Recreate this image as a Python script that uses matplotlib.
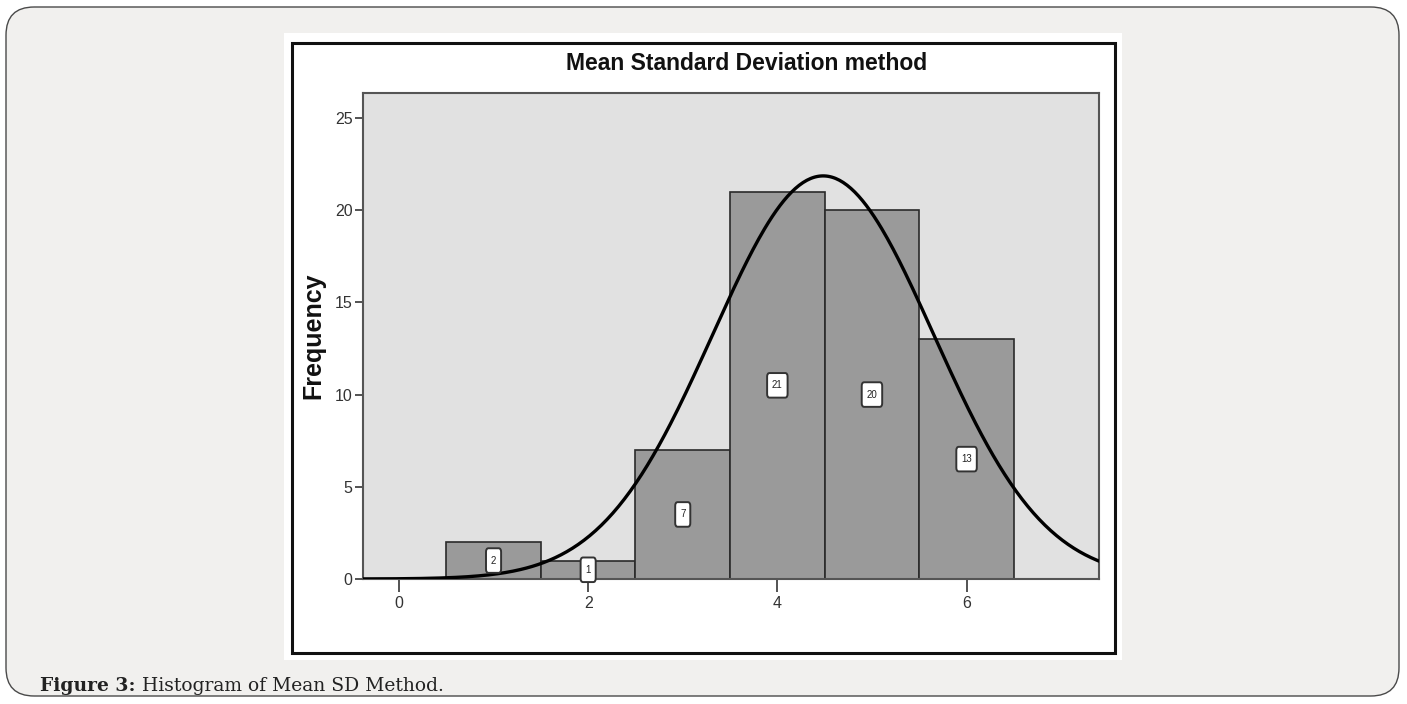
import numpy as np
import matplotlib
matplotlib.use("Agg")
import matplotlib.pyplot as plt
from matplotlib.patches import FancyBboxPatch, Rectangle

# histogram data (score value -> count)
scores = [1, 2, 3, 4, 5, 6]
counts = [2, 1, 7, 21, 20, 13]
xticks = [0, 2, 4, 6]
yticks = [0, 5, 10, 15, 20, 25]
title = "Mean Standard Deviation method"
ylabel = "Frequency"
caption_bold = "Figure 3:"
caption_text = " Histogram of Mean SD Method."

fig = plt.figure(figsize=(14.07, 7.04), dpi=100)
fig.patch.set_facecolor("white")
W, H = 1407, 704

def fx(px):
    return px / W

def fy(py):
    return 1 - py / H

# outer page panel with rounded corners
fig.patches.append(FancyBboxPatch((fx(6), fy(696)), fx(1393), 689 / H,
                                  boxstyle="round,pad=0,rounding_size=0.02",
                                  transform=fig.transFigure, fc="#f1f0ee", ec="#4a4a4a",
                                  lw=1.0, zorder=-4, mutation_aspect=2.0))
# white image area and black frame
fig.patches.append(Rectangle((fx(284), fy(660)), fx(838), 627 / H, transform=fig.transFigure,
                             fc="white", ec="none", zorder=-3))
fig.patches.append(Rectangle((fx(292), fy(653)), fx(823), 610 / H, transform=fig.transFigure,
                             fc="none", ec="#111111", lw=2.2, zorder=-2))

ax = fig.add_axes([fx(363), fy(579), fx(1099 - 363), (579 - 93) / H])
ax.set_facecolor("#e1e1e1")

ax.bar(scores, counts, width=1.0, color="#9a9a9a", edgecolor="#2a2a2a", linewidth=1.2, zorder=2)

# normal curve fitted to the histogram
vals = np.repeat(scores, counts)
mu = vals.mean()
sd = vals.std(ddof=1)
n = len(vals)
xs = np.linspace(-0.5, 7.6, 400)
ys = n * 1.0 / (sd * np.sqrt(2 * np.pi)) * np.exp(-0.5 * ((xs - mu) / sd) ** 2)
ax.plot(xs, ys, color="black", lw=2.4, zorder=4)

for s, c in zip(scores, counts):
    ax.text(s, c / 2, str(c), ha="center", va="center", fontsize=7, color="#222222",
            family="Liberation Sans", zorder=5,
            bbox=dict(boxstyle="round,pad=0.5,rounding_size=0.25", fc="white", ec="#333333",
                      lw=1.4, mutation_aspect=1.5))

ax.set_xlim(-0.38, 7.4)
ax.set_ylim(0, 26.35)
ax.set_xticks(xticks)
ax.set_yticks(yticks)
ax.tick_params(direction="out", width=1.3, color="#444444", labelcolor="#333333", labelsize=11.5)
ax.tick_params(axis="x", length=9, pad=3)
ax.tick_params(axis="y", length=6, pad=1.5)
for lab in ax.get_xticklabels() + ax.get_yticklabels():
    lab.set_family("Liberation Sans")
for sp in ax.spines.values():
    sp.set_color("#555555")
    sp.set_linewidth(1.5)

fig.text(fx(313), fy(336), ylabel, ha="center", va="center", rotation=90, fontsize=18,
         fontweight="bold", family="Liberation Sans", color="#111111")
fig.text(fx(747), fy(64), title, ha="center", va="center", fontsize=16.5, fontweight="bold",
         family="Liberation Sans", color="#111111")

# caption
t = fig.text(fx(40), fy(686), caption_bold, ha="left", va="center", fontsize=13.5,
             fontweight="bold", family="DejaVu Serif", color="#222222")
fig.canvas.draw()
bb = t.get_window_extent()
fig.text(bb.x1 / W, fy(686), caption_text, ha="left", va="center", fontsize=13.5,
         family="DejaVu Serif", color="#222222")

fig.savefig("out.png", dpi=100)
